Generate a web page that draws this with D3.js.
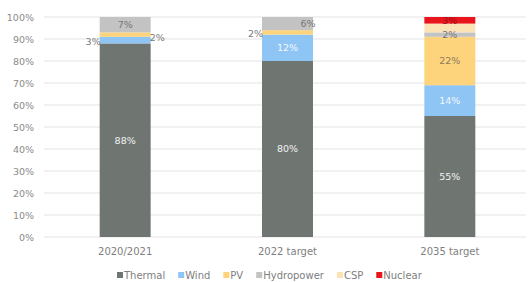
<!DOCTYPE html>
<html><head><meta charset="utf-8">
<script src="https://cdn.jsdelivr.net/npm/d3@7"></script>
<style>
body{margin:0;background:#fff;}
text{font-family:"DejaVu Sans",Verdana,sans-serif;}
</style></head>
<body><svg id="c" width="531" height="282"></svg>
<script>
const categories = ["2020/2021", "2022 target", "2035 target"];
const seriesNames = ["Thermal", "Wind", "PV", "Hydropower", "CSP", "Nuclear"];
const thermal = [88, 80, 55];
const wind = [3, 12, 14];
const pv = [2, 2, 22];
const hydro = [7, 6, 2];
const csp = [0, 0, 4];
const nuclear = [0, 0, 3];
const yTicks = [0, 10, 20, 30, 40, 50, 60, 70, 80, 90, 100];

const colors = ["#6f7672", "#8ec5f4", "#fdd47c", "#c3c3c3", "#fce3b6", "#e8151c"];
const labelColors = ["#f2f2f2", "#f4f8fc", "#8b7b5c", "#767676", "#767676", "#a01010"];
const seriesValues = [thermal, wind, pv, hydro, csp, nuclear];

const rows = categories.map((c, i) => {
  const r = {cat: c};
  seriesNames.forEach((s, j) => r[s] = seriesValues[j][i]);
  return r;
});

const svg = d3.select("#c");
const m = {l: 44, r: 0, t: 17, b: 45};
const W = 531, H = 282;
const x = d3.scaleBand().domain(categories).range([m.l, W - m.r]).paddingInner(0.686).paddingOuter(0.343);
const y = d3.scaleLinear().domain([0, 100]).range([237, 17]);

// grid
svg.append("g").selectAll("line").data(yTicks).join("line")
  .attr("x1", m.l).attr("x2", 526)
  .attr("y1", d => y(d)).attr("y2", d => y(d))
  .attr("stroke", "#e3e3e3").attr("stroke-width", 1);

// y axis
const ya = svg.append("g").attr("transform", `translate(${m.l},0)`)
  .call(d3.axisLeft(y).tickValues(yTicks).tickFormat(d => d + "%").tickSize(0).tickPadding(10));
ya.select(".domain").remove();
ya.selectAll("text").attr("fill", "#8a8a8a").style("font-size", "9.5px").style("font-family", '"DejaVu Sans",sans-serif');

// x axis
const xa = svg.append("g").attr("transform", `translate(0,237)`)
  .call(d3.axisBottom(x).tickSize(0).tickPadding(11));
xa.select(".domain").remove();
xa.selectAll("text").attr("fill", "#808080").style("font-size", "10px").style("font-family", '"DejaVu Sans",sans-serif');

const stack = d3.stack().keys(seriesNames)(rows);

svg.append("g").selectAll("g").data(stack).join("g")
  .attr("fill", (d, i) => colors[i])
  .selectAll("rect").data(d => d).join("rect")
  .attr("x", d => x(d.data.cat))
  .attr("width", x.bandwidth())
  .attr("y", d => y(d[1]))
  .attr("height", d => y(d[0]) - y(d[1]));

// labels
const outside = {"2020/2021|Wind": "left", "2020/2021|PV": "right", "2022 target|PV": "left", "2022 target|Hydropower": "edge"};
const lg = svg.append("g");
stack.forEach((layer, j) => {
  layer.forEach(d => {
    const v = d[1] - d[0];
    if (v <= 0) return;
    if (seriesNames[j] === "CSP") return;
    const key = d.data.cat + "|" + seriesNames[j];
    const cx = x(d.data.cat) + x.bandwidth() / 2;
    let cy = (y(d[0]) + y(d[1])) / 2;
    let tx = cx, anchor = "middle", col = labelColors[j];
    const pos = outside[key];
    if (pos === "left") { tx = x(d.data.cat) + 1; anchor = "end"; col = "#7a7a7a"; cy += 1.5; }
    if (pos === "right") { tx = x(d.data.cat) + x.bandwidth() - 1; anchor = "start"; col = "#7a7a7a"; cy += 3; }
    if (pos === "edge") { tx = x(d.data.cat) + x.bandwidth() - 5; }
    lg.append("text").attr("x", tx).attr("y", cy).attr("dy", "0.35em")
      .attr("text-anchor", anchor).attr("fill", col)
      .style("font-size", "9.5px").text(v + "%");
  });
});

// legend
const leg = svg.append("g").attr("transform", "translate(0,276)");
let cur = 117;
seriesNames.forEach((s, i) => {
  const g = leg.append("g").attr("transform", `translate(${cur},0)`);
  g.append("rect").attr("x", 0).attr("y", -4).attr("width", 6).attr("height", 6).attr("fill", colors[i]);
  const t = g.append("text").attr("x", 7).attr("y", 0).attr("dy", "0.3em").attr("fill", "#808080")
    .style("font-size", "10px").text(s);
  cur += 7 + t.node().getComputedTextLength() + 13;
});
</script></body></html>
